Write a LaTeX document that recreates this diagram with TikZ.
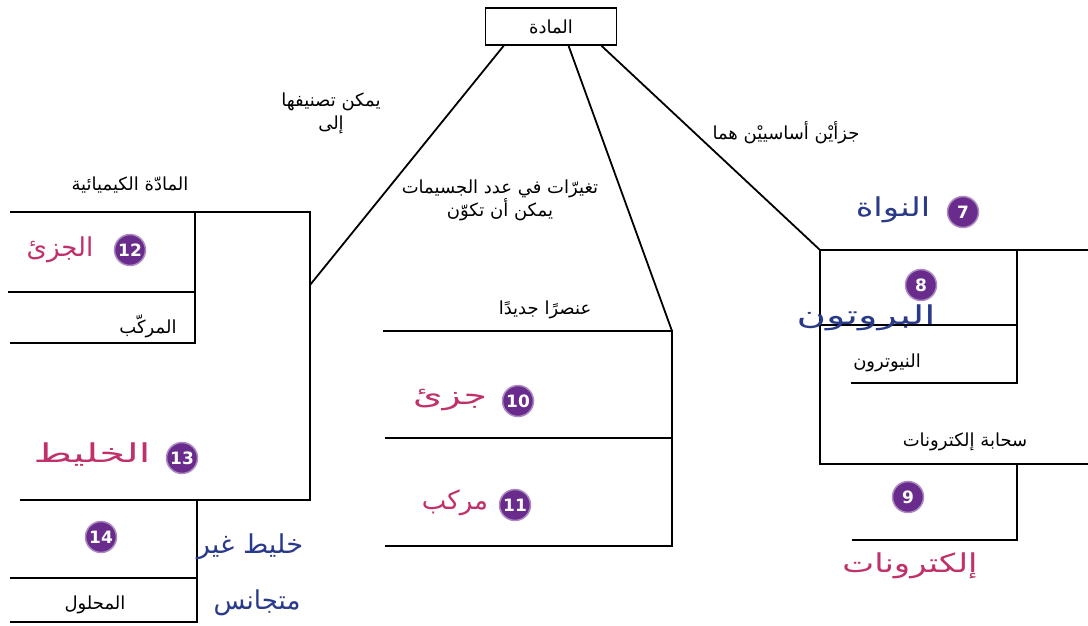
\documentclass[tikz,border=0pt]{standalone}
\usepackage{fontspec}
\newfontfamily\ar[Script=Arabic]{DejaVu Sans}
\newfontfamily\numfont{DejaVu Sans}
\TeXXeTstate=1
\definecolor{badgepurple}{HTML}{6A2C8C}
\definecolor{hpinkc}{HTML}{C0306A}
\definecolor{hbluec}{HTML}{2A3A8A}
\tikzset{
  ln/.style={line width=1.8pt, black},
  lbl/.style={font=\ar\fontsize{18}{23}\selectfont, align=center, inner sep=1pt},
  badge/.style={circle, fill=badgepurple, draw=badgepurple!55, line width=1.5pt, text=white,
    font=\numfont\bfseries\fontsize{17}{17}\selectfont, minimum size=31pt, inner sep=0pt},
  hpink/.style={font=\ar\fontsize{26}{28}\selectfont, text=hpinkc, inner sep=1pt},
  hblue/.style={font=\ar\fontsize{26}{28}\selectfont, text=hbluec, inner sep=1pt},
}
\begin{document}
\begin{tikzpicture}[x=1pt,y=-1pt]
\useasboundingbox[fill=white] (0,0) rectangle (1088,626);

% top box
\node[draw, line width=1.8pt, minimum width=131pt, minimum height=37pt, lbl] (mat) at (551,26.5) {\beginR المادة\endR};

% left structure
\draw[ln] (10,212) -- (310,212) -- (310,500) -- (20,500);
\draw[ln] (195,212) -- (195,343) -- (10,343);
\draw[ln] (8,292) -- (195,292);
\draw[ln] (197,500) -- (197,622) -- (10,622);
\draw[ln] (10,578) -- (197,578);
\coordinate (l1) at (310,285);

% middle structure
\draw[ln] (383,331) -- (672,331) -- (672,546) -- (385,546);
\draw[ln] (385,438) -- (672,438);
\coordinate (m1) at (672,331);

% right structure
\draw[ln] (1088,250) -- (820,250) -- (820,464) -- (1088,464);
\draw[ln] (1017,250) -- (1017,383) -- (851,383);
\draw[ln] (820,325) -- (1017,325);
\draw[ln] (1017,464) -- (1017,540) -- (852,540);
\coordinate (r1) at (820,250);

% connectors
\draw[ln] ([xshift=19pt]mat.south west) -- (l1);
\draw[ln] ([xshift=84pt]mat.south west) -- (m1);
\draw[ln] ([xshift=117pt]mat.south west) -- (r1);

% connector labels
\node[lbl] (t1) at (331,113) {\beginR يمكن تصنيفها\endR\\\beginR إلى\endR};
\node[lbl] (t2) at (500,200) {\beginR تغيرّات في عدد الجسيمات\endR\\\beginR يمكن أن تكوّن\endR};
\node[lbl] (t3) at (786,133) {\beginR جزأيْن أساسييْن هما\endR};

% printed labels
\node[lbl] (chem) at (130,185) {\beginR المادّة الكيميائية\endR};
\node[lbl] (comp) at (148,326) {\beginR المركّب\endR};
\node[lbl] (sol) at (95,605) {\beginR المحلول\endR};
\node[lbl] (newel) at (545,310) {\beginR عنصرًا جديدًا\endR};
\node[lbl] (neut) at (887,363) {\beginR النيوترون\endR};
\node[lbl] (cloud) at (965,442) {\beginR سحابة إلكترونات\endR};

% badges
\node[badge] (b7) at (963,212) {7};
\node[badge] (b8) at (921,285) {8};
\node[badge] (b9) at (908,497) {9};
\node[badge] (b10) at (518,401) {10};
\node[badge] (b11) at (515,505) {11};
\node[badge] (b12) at (130,250) {12};
\node[badge] (b13) at (182,458) {13};
\node[badge] (b14) at (101,537) {14};

% handwritten answers
\node[hblue, xscale=1.3] (h7) at (893,210) {\beginR النواة\endR};
\node[hblue, xscale=1.55] (h8) at (866,318) {\beginR البروتون\endR};
\node[hpink, xscale=1.3] (h9) at (910,566) {\beginR إلكترونات\endR};
\node[hpink, xscale=1.45] (h10) at (450,400) {\beginR جزئ\endR};
\node[hpink] (h11) at (455,503) {\beginR مركب\endR};
\node[hpink] (h12) at (60,250) {\beginR الجزئ\endR};
\node[hpink, xscale=1.6] (h13) at (92,455) {\beginR الخليط\endR};
\node[hblue, xscale=1.05] (h14a) at (250,547) {\beginR خليط غير\endR};
\node[hblue] (h14b) at (257,603) {\beginR متجانس\endR};
\end{tikzpicture}
\end{document}
